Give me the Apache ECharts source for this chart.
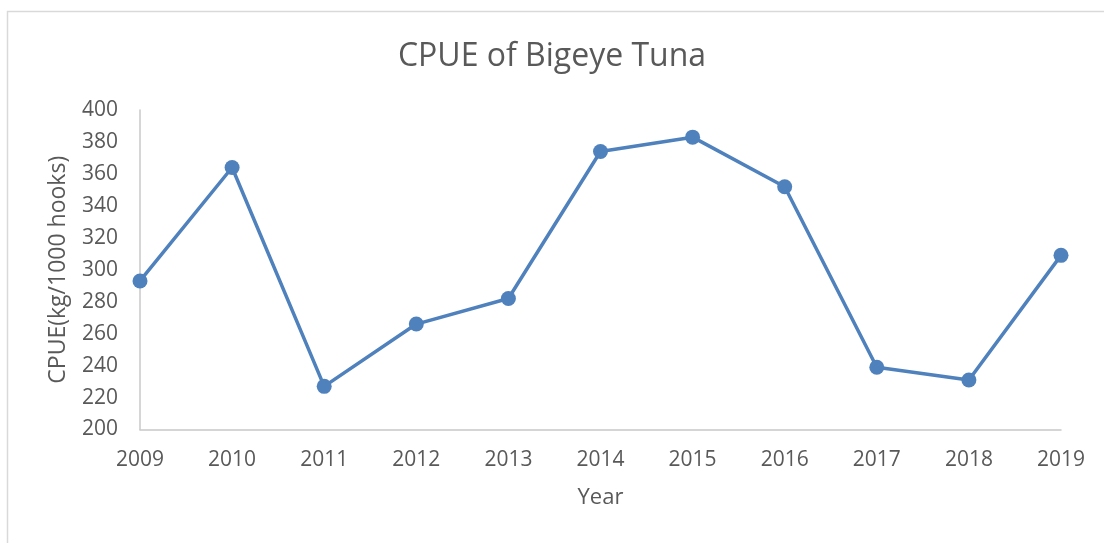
<!DOCTYPE html>
<html>
<head>
<meta charset="utf-8">
<script src="https://cdn.jsdelivr.net/npm/echarts@6/dist/echarts.min.js"></script>
<style>
  html, body { margin: 0; padding: 0; background: #fff; }
  #chart { width: 1104px; height: 543px; }
</style>
</head>
<body>
<div id="chart"></div>
<script>
// 数据
const years = ['2009', '2010', '2011', '2012', '2013', '2014', '2015', '2016', '2017', '2018', '2019']
const cpue = [293, 364, 227, 266, 282, 374, 383, 352, 239, 231, 309]
const yTicks = [200, 400, 20] // min, max, interval

const myChart = echarts.init(document.querySelector('#chart'))
const textColor = '#595959'
const font = 'Open Sans'

const option = {
  backgroundColor: '#fff',
  animation: false,
  // 图表外框
  graphic: [{
    type: 'rect',
    shape: { x: 7.5, y: 11.5, width: 1200, height: 600 },
    style: { fill: 'none', stroke: '#d9d9d9', lineWidth: 1.5 },
    silent: true
  }],
  title: {
    text: 'CPUE of Bigeye Tuna',
    left: 'center',
    top: 36,
    textStyle: { fontFamily: font, fontSize: 32, fontWeight: 'normal', color: textColor }
  },
  grid: { left: 140, right: 43, top: 110, height: 319.5 },
  xAxis: {
    type: 'category',
    data: years,
    boundaryGap: false,
    name: 'Year',
    nameLocation: 'middle',
    nameGap: 57,
    nameTextStyle: { fontFamily: font, fontSize: 22, color: textColor },
    axisLine: { lineStyle: { color: '#c8c8c8', width: 1.5 } },
    axisTick: { show: false },
    axisLabel: { fontFamily: font, fontSize: 21, color: textColor, margin: 20 },
    splitLine: { show: false }
  },
  yAxis: {
    type: 'value',
    min: yTicks[0],
    max: yTicks[1],
    interval: yTicks[2],
    name: 'CPUE(kg/1000 hooks)',
    nameLocation: 'middle',
    nameGap: 70,
    nameTextStyle: { fontFamily: font, fontSize: 23, color: textColor },
    axisLine: { show: true, lineStyle: { color: '#c8c8c8', width: 1.5 } },
    axisTick: { show: false },
    axisLabel: { fontFamily: font, fontSize: 21, color: textColor, margin: 22 },
    splitLine: { show: false }
  },
  series: [{
    type: 'line',
    data: cpue,
    symbol: 'circle',
    symbolSize: 15,
    lineStyle: { color: '#4f81bd', width: 3.5 },
    itemStyle: { color: '#4f81bd' }
  }]
}
myChart.setOption(option)
</script>
</body>
</html>
